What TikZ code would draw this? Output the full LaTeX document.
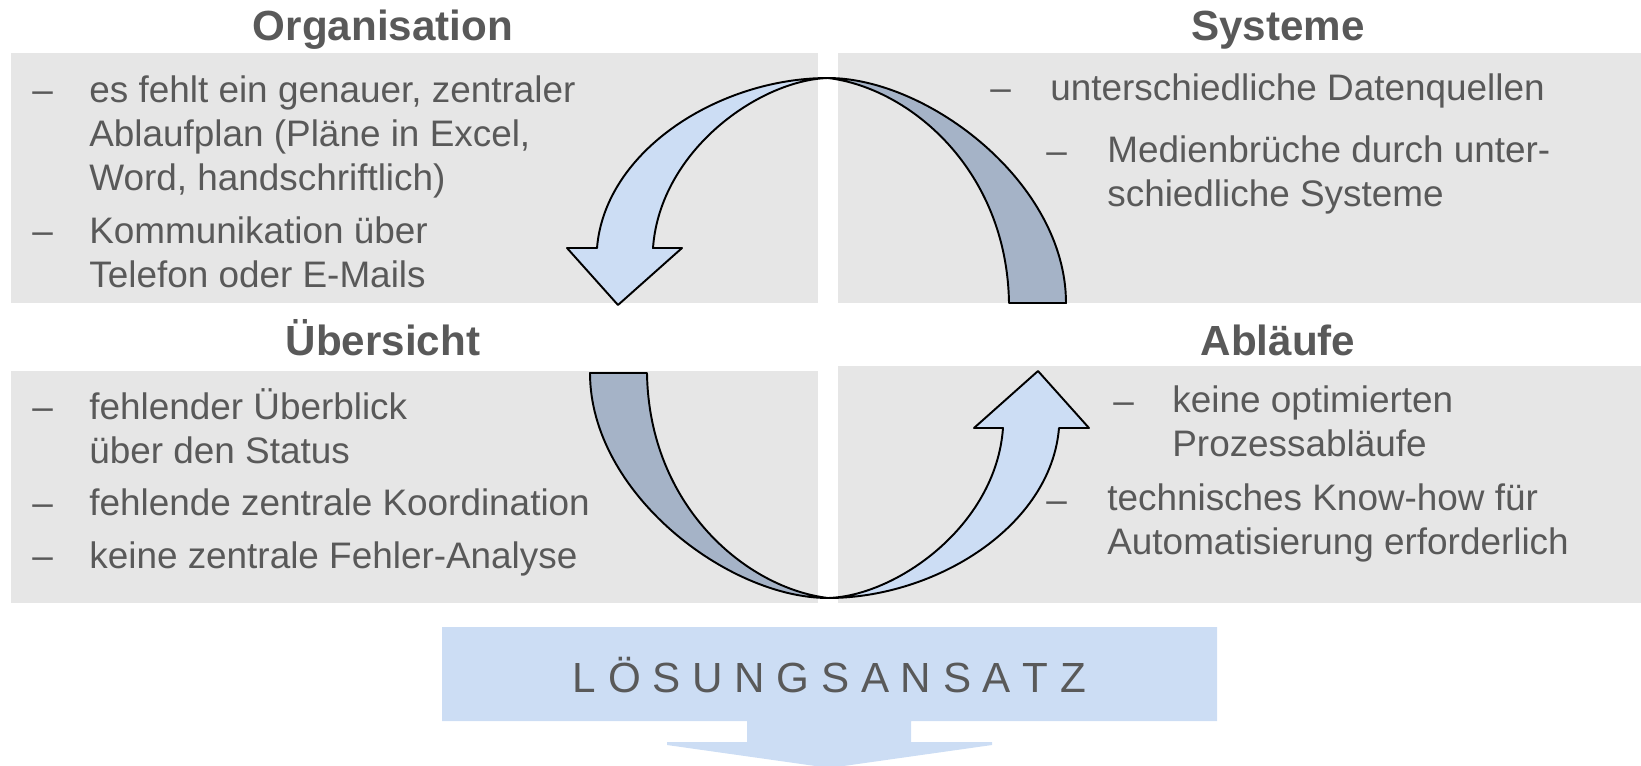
\documentclass[tikz,border=0pt]{standalone}
\usepackage{fontspec}
\setmainfont{Liberation Sans}
\usetikzlibrary{calc}

\definecolor{boxgray}{HTML}{E6E6E6}
\definecolor{txtgray}{HTML}{595959}
\definecolor{lightband}{HTML}{CCDDF4}
\definecolor{darkband}{HTML}{A5B3C7}

\tikzset{
  panel/.style={fill=boxgray},
  heading/.style={anchor=base, inner sep=0pt, text=txtgray, font=\fontsize{24}{29}\selectfont\bfseries},
  bulletmark/.style={anchor=base west, inner sep=0pt, text=txtgray, font=\fontsize{21}{25}\selectfont},
  itemtext/.style={anchor=base west, inner sep=0pt, align=left, text=txtgray, font=\fontsize{21}{25}\selectfont},
  frontband/.style={fill=lightband, draw=black, line width=1.1pt, line join=round},
  backband/.style={fill=darkband, draw=black, line width=1.1pt, line join=round},
  solshape/.style={fill=lightband},
}

\begin{document}
\begin{tikzpicture}[x=0.02cm, y=-0.02cm]
            \useasboundingbox (0,0) rectangle (1641,765);
            \fill[panel] (11,53) rectangle (818,303);
            \fill[panel] (838,53) rectangle (1641,303);
            \fill[panel] (11,371) rectangle (818,603);
            \fill[panel] (838,366) rectangle (1641,603);
            \node[heading] (org) at (383,40) {Organisation};
            \node[heading] (sys) at (1278,40) {Systeme};
            \node[heading] (ueb) at (383,355) {Übersicht};
            \node[heading] (abl) at (1278,355) {Abläufe};
            % Organisation (multi-line texts sit on their last baseline)
            \node[bulletmark] (o1) at (32,102) {–};
            \node[itemtext] (ot1) at (89,190) {es fehlt ein genauer, zentraler\\Ablaufplan (Pläne in Excel,\\Word, handschriftlich)};
            \node[bulletmark] (o2) at (32,243) {–};
            \node[itemtext] (ot2) at (89,287) {Kommunikation über\\Telefon oder E-Mails};
            % Systeme
            \node[bulletmark] (s1) at (990,100) {–};
            \node[itemtext] (st1) at (1050,100) {unterschiedliche Datenquellen};
            \node[bulletmark] (s2) at (1046,163) {–};
            \node[itemtext] (st2) at (1107,206) {Medienbrüche durch unter-\\schiedliche Systeme};
            % Uebersicht
            \node[bulletmark] (u1) at (32,419) {–};
            \node[itemtext] (ut1) at (89,463) {fehlender Überblick\\über den Status};
            \node[bulletmark] (u2) at (32,515) {–};
            \node[itemtext] (ut2) at (89,515) {fehlende zentrale Koordination};
            \node[bulletmark] (u3) at (32,568) {–};
            \node[itemtext] (ut3) at (89,568) {keine zentrale Fehler-Analyse};
            % Ablaeufe
            \node[bulletmark] (a1) at (1113,413) {–};
            \node[itemtext] (at1) at (1172,456) {keine optimierten\\Prozessabläufe};
            \node[bulletmark] (a2) at (1046,512) {–};
            \node[itemtext] (at2) at (1107,554) {technisches Know-how für\\Automatisierung erforderlich};
            % cycle
            \coordinate (C) at (828,338);
            \foreach \r in {0,180} {
                \draw[backband, rotate around={\r:(C)}] (828,78) .. controls (928,78) and (1066,183) .. (1066,303)
                    -- (1009,303) .. controls (1007,170) and (910,88) .. (828,78) -- cycle;
            }
            \foreach \r in {0,180} {
                \draw[frontband, rotate around={\r:(C)}] (828,78) .. controls (720,78) and (605,150) .. (597,248)
                    -- (567,248) -- (618,305) -- (682,248) -- (653,248) .. controls (660,150) and (760,80) .. (828,78) -- cycle;
            }
            % Loesungsansatz
            \fill[solshape] (442,627) -- (1217,627) -- (1217,721) -- (911,721) -- (911,742) -- (992,742) -- (992,745)
                -- (829.5,768) -- (667,745) -- (667,742) -- (747,742) -- (747,721) -- (442,721) -- cycle;
            \node[anchor=base, inner sep=0pt, text=txtgray, font=\fontsize{24}{29}\selectfont] (sol) at (829.5,692) {L Ö S U N G S A N S A T Z};
        \end{tikzpicture}
\end{document}
